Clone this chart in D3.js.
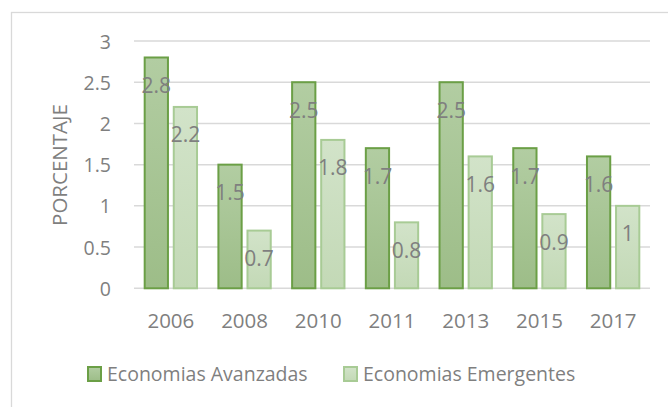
<!DOCTYPE html>
<html>
<head>
<meta charset="utf-8">
<script src="https://cdn.jsdelivr.net/npm/d3@7"></script>
<style>
  body { margin: 0; background: #fff; }
  text { font-family: "Open Sans", sans-serif; fill: #7f7f7f; }
</style>
</head>
<body>
<script>
// chart data
var years = ["2006", "2008", "2010", "2011", "2013", "2015", "2017"];
var avanzadas = [2.8, 1.5, 2.5, 1.7, 2.5, 1.7, 1.6];
var emergentes = [2.2, 0.7, 1.8, 0.8, 1.6, 0.9, 1.0];
var seriesNames = ["Economias Avanzadas", "Economias Emergentes"];
var yTicks = [0, 0.5, 1, 1.5, 2, 2.5, 3];

var w = 668, h = 407;
var svg = d3.select("body").append("svg")
    .attr("width", w)
    .attr("height", h);

// gradients for the bar fills
var defs = svg.append("defs");
var gradA = defs.append("linearGradient").attr("id", "gA")
    .attr("x1", 0).attr("y1", 0).attr("x2", 0).attr("y2", 1);
gradA.append("stop").attr("offset", "0%").attr("stop-color", "#b2cda2");
gradA.append("stop").attr("offset", "100%").attr("stop-color", "#9dbd88");
var gradE = defs.append("linearGradient").attr("id", "gE")
    .attr("x1", 0).attr("y1", 0).attr("x2", 0).attr("y2", 1);
gradE.append("stop").attr("offset", "0%").attr("stop-color", "#d2e3c9");
gradE.append("stop").attr("offset", "100%").attr("stop-color", "#c3d9b6");

var fills = ["url(#gA)", "url(#gE)"];
var strokes = ["#6b9f46", "#a8cb95"];

// outer chart border (cut off at right/bottom)
svg.append("rect")
    .attr("x", 11.5).attr("y", 12.5)
    .attr("width", 800).attr("height", 600)
    .style("fill", "none")
    .style("stroke", "#d9d9d9")
    .style("stroke-width", 1.3);

// scales
var x = d3.scaleBand()
    .domain(years)
    .range([134, 650])
    .paddingInner(0.29)
    .paddingOuter(0.145);

var x1 = d3.scaleBand()
    .domain([0, 1])
    .range([0, x.bandwidth()])
    .paddingInner(0.2);

var y = d3.scaleLinear()
    .domain([0, 3])
    .range([288.3, 41]);

// gridlines
svg.append("g")
    .selectAll("line")
    .data(yTicks)
    .enter()
    .append("line")
    .attr("x1", 134).attr("x2", 650)
    .attr("y1", function(d){ return y(d); })
    .attr("y2", function(d){ return y(d); })
    .style("stroke", "#d9d9d9")
    .style("stroke-width", 1.5);

// y axis
var yAxis = d3.axisLeft(y)
    .tickValues(yTicks)
    .tickSize(0)
    .tickPadding(0)
    .tickFormat(function(d){ return d; });
var yG = svg.append("g")
    .attr("transform", "translate(111,0)")
    .call(yAxis);
yG.select(".domain").remove();
yG.selectAll("text")
    .style("font-size", "19.5px")
    .style("fill", "#7f7f7f")
    .style("font-family", "'Open Sans', sans-serif")
    .attr("dy", "0.36em");

// x axis
var xAxis = d3.axisBottom(x).tickSize(0).tickPadding(0);
var xG = svg.append("g")
    .attr("transform", "translate(0,288.3)")
    .call(xAxis);
xG.select(".domain").remove();
xG.selectAll("text")
    .style("font-size", "20.5px")
    .style("fill", "#7f7f7f")
    .style("font-family", "'Open Sans', sans-serif")
    .attr("dy", null)
    .attr("y", 40);

// axis title
svg.append("text")
    .attr("transform", "translate(67,165) rotate(-90)")
    .attr("text-anchor", "middle")
    .style("font-size", "20.5px")
    .text("PORCENTAJE");

// bars
var rows = years.map(function(yr, i){
    return { year: yr, values: [avanzadas[i], emergentes[i]] };
});

var groups = svg.selectAll(".grp")
    .data(rows)
    .enter()
    .append("g")
    .attr("class", "grp")
    .attr("transform", function(d){ return "translate(" + x(d.year) + ",0)"; });

groups.selectAll("rect")
    .data(function(d){ return d.values.map(function(v, k){ return { k: k, v: v }; }); })
    .enter()
    .append("rect")
    .attr("x", function(d){ return x1(d.k); })
    .attr("y", function(d){ return y(d.v); })
    .attr("width", x1.bandwidth())
    .attr("height", function(d){ return y(0) - y(d.v); })
    .style("fill", function(d){ return fills[d.k]; })
    .style("stroke", function(d){ return strokes[d.k]; })
    .style("stroke-width", 2);

// data labels
groups.selectAll(".lbl")
    .data(function(d){ return d.values.map(function(v, k){ return { k: k, v: v }; }); })
    .enter()
    .append("text")
    .attr("class", "lbl")
    .attr("text-anchor", "middle")
    .attr("x", function(d){ return x1(d.k) + x1.bandwidth() / 2; })
    .attr("y", function(d){ return y(d.v) + 35.5; })
    .style("font-size", "21px")
    .text(function(d){ return d.v; });

// legend
var legX = [87, 343];
var legend = svg.selectAll(".leg")
    .data(seriesNames)
    .enter()
    .append("g")
    .attr("class", "leg")
    .attr("transform", function(d, i){ return "translate(" + legX[i] + ",366)"; });

legend.append("rect")
    .attr("x", 1).attr("y", 1)
    .attr("width", 13).attr("height", 14)
    .style("fill", function(d, i){ return fills[i]; })
    .style("stroke", function(d, i){ return strokes[i]; })
    .style("stroke-width", 2);

legend.append("text")
    .attr("x", 20)
    .attr("y", 15)
    .style("font-size", "19.5px")
    .text(function(d){ return d; });
</script>
</body>
</html>
